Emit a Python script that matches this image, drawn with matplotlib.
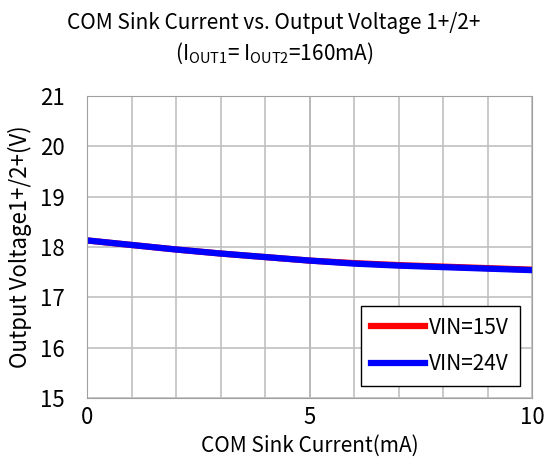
import matplotlib
matplotlib.use("Agg")
import matplotlib.pyplot as plt

plt.rcParams['font.family'] = ['Noto Sans CJK JP', 'DejaVu Sans']
plt.rcParams['mathtext.fontset'] = 'custom'
plt.rcParams['mathtext.rm'] = 'Noto Sans CJK JP'

# data
sink_current = [0, 1, 2, 3, 4, 5, 6, 7, 8, 9, 10]
vout_15v = [18.13, 18.04, 17.95, 17.87, 17.80, 17.73, 17.68, 17.64, 17.61, 17.58, 17.55]
vout_24v = [18.13, 18.04, 17.95, 17.87, 17.80, 17.73, 17.67, 17.63, 17.60, 17.57, 17.54]

fig = plt.figure(figsize=(5.48, 4.70), dpi=100)
ax = fig.add_axes([0.159, 0.153, 0.812, 0.643])

ax.plot(sink_current, vout_15v, color='red', lw=4.5, label='VIN=15V')
ax.plot(sink_current, vout_24v, color='blue', lw=4.5, label='VIN=24V')

ax.set_xlim(0, 10)
ax.set_ylim(15, 21)
ax.set_xticks([0, 5, 10])
ax.set_xticks(range(11), minor=True)
ax.set_yticks(range(15, 22))
ax.grid(True, which='both', color='#c0c0c0', lw=1.2)
ax.axvline(5, color='#909090', lw=1.2, zorder=0.5)
ax.tick_params(which='both', length=0, labelsize=16)
ax.tick_params(axis='y', pad=16)
ax.tick_params(axis='x', pad=6)
for s in ax.spines.values():
    s.set_color('#a0a0a0')

ax.set_xlabel('COM Sink Current(mA)', fontsize=15, labelpad=4)
ax.set_ylabel('Output Voltage1+/2+(V)', fontsize=16, labelpad=6)
fig.text(0.5, 0.952, 'COM Sink Current vs. Output Voltage 1+/2+',
         ha='center', va='center', fontsize=15)
fig.text(0.5, 0.886, r'(I$_{\mathregular{OUT1}}$= I$_{\mathregular{OUT2}}$=160mA)',
         ha='center', va='center', fontsize=15)

leg = ax.legend(loc='lower right', fontsize=15, fancybox=False, framealpha=1,
                edgecolor='black', handlelength=2.6, handletextpad=0.2,
                labelspacing=0.7, borderaxespad=0.6, borderpad=0.5)
leg.get_frame().set_linewidth(1.0)

fig.savefig('out.png', dpi=100)
